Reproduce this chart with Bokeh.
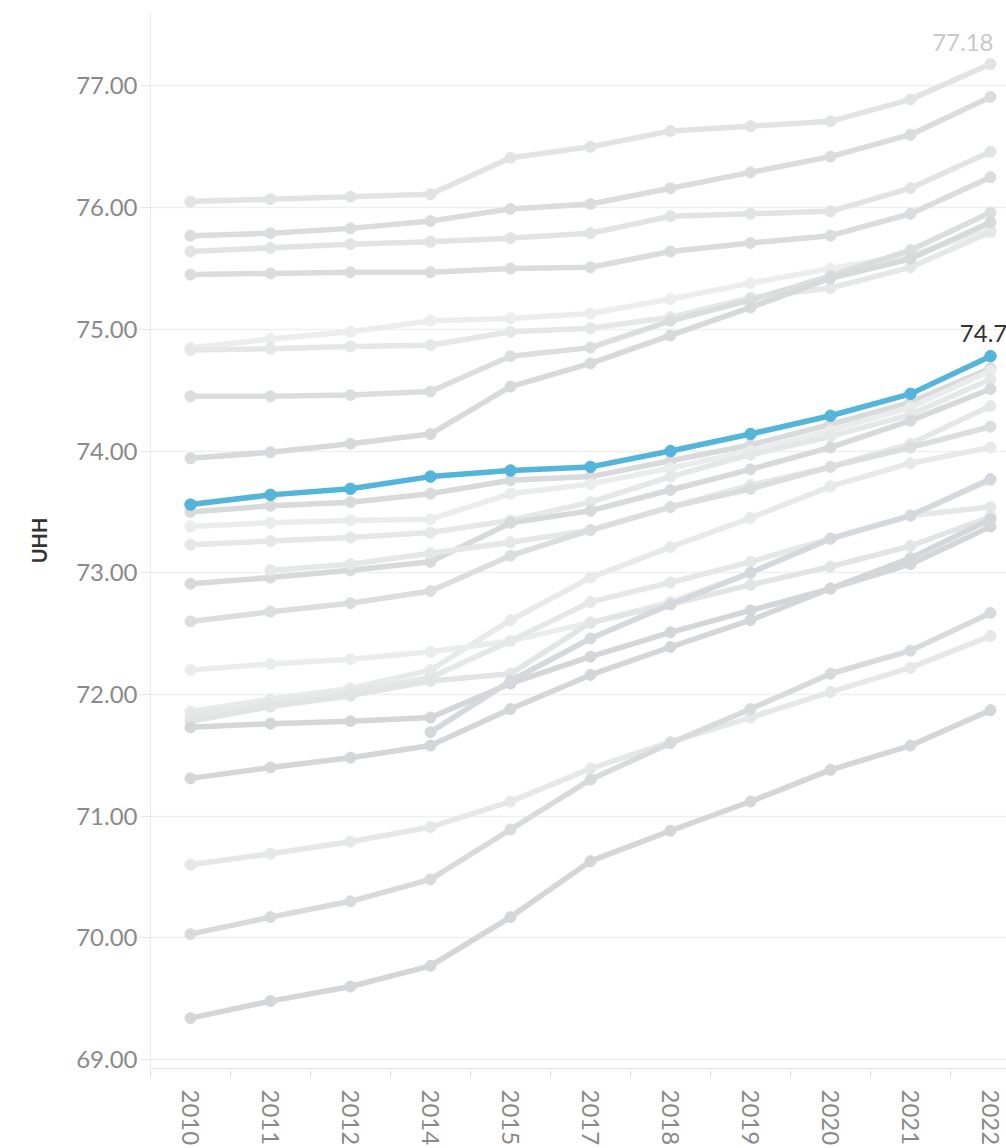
import math
from bokeh.plotting import figure
from bokeh.models import Range1d, FixedTicker, NumeralTickFormatter
from bokeh.core.properties import value
from bokeh.embed import file_html
from bokeh.resources import INLINE

NA = float("nan")

years = ["2010", "2011", "2012", "2014", "2015", "2017", "2018", "2019", "2020", "2021", "2022"]

# grey series (UHH values per year)
s01 = [76.05, 76.07, 76.09, 76.11, 76.41, 76.50, 76.63, 76.67, 76.71, 76.89, 77.18]
s02 = [75.77, 75.79, 75.83, 75.89, 75.99, 76.03, 76.16, 76.29, 76.42, 76.60, 76.91]
s03 = [75.64, 75.67, 75.70, 75.72, 75.75, 75.79, 75.93, 75.95, 75.97, 76.16, 76.46]
s04 = [75.45, 75.46, 75.47, 75.47, 75.50, 75.51, 75.64, 75.71, 75.77, 75.95, 76.25]
s05 = [74.85, 74.92, 74.98, 75.07, 75.09, 75.13, 75.25, 75.38, 75.50, 75.61, 75.82]
s06 = [74.83, 74.84, 74.86, 74.87, 74.98, 75.01, 75.10, 75.26, 75.34, 75.51, 75.80]
s07 = [74.45, 74.45, 74.46, 74.49, 74.78, 74.85, 75.07, 75.24, 75.44, 75.65, 75.96]
s08 = [73.94, 73.99, 74.06, 74.14, 74.53, 74.72, 74.95, 75.18, 75.42, 75.58, 75.88]
s09 = [73.50, 73.55, 73.58, 73.65, 73.76, 73.79, 73.92, 74.05, 74.22, 74.40, 74.68]
s10 = [73.38, 73.41, 73.43, 73.44, 73.65, 73.73, 73.86, 74.00, 74.17, 74.36, 74.66]
s11 = [73.23, 73.26, 73.29, 73.33, 73.43, 73.58, 73.79, 73.97, 74.12, 74.30, 74.59]
s12 = [72.91, 72.96, 73.02, 73.09, 73.41, 73.51, 73.68, 73.85, 74.03, 74.25, 74.51]
s13 = [NA, 73.02, 73.07, 73.16, 73.25, 73.35, 73.54, 73.72, 73.87, 74.06, 74.37]
s14 = [72.60, 72.68, 72.75, 72.85, 73.14, 73.35, 73.54, 73.69, 73.87, 74.03, 74.20]
s15 = [71.86, 71.96, 72.05, 72.20, 72.61, 72.96, 73.21, 73.45, 73.71, 73.90, 74.03]
s16 = [72.20, 72.25, 72.29, 72.35, 72.44, 72.59, 72.76, 73.00, 73.28, 73.47, 73.76]
s17 = [71.82, 71.92, 72.02, 72.14, 72.44, 72.76, 72.92, 73.09, 73.28, 73.47, 73.54]
s18 = [71.78, 71.90, 71.99, 72.11, 72.17, 72.59, 72.74, 72.90, 73.05, 73.22, 73.46]
s19 = [71.73, 71.76, 71.78, 71.81, 72.09, 72.31, 72.51, 72.69, 72.87, 73.07, 73.38]
s20 = [NA, NA, NA, 71.69, 72.11, 72.46, 72.74, 73.00, 73.28, 73.47, 73.77]
s21 = [71.31, 71.40, 71.48, 71.58, 71.88, 72.16, 72.39, 72.61, 72.87, 73.12, 73.44]
s22 = [70.60, 70.69, 70.79, 70.91, 71.12, 71.39, 71.61, 71.81, 72.02, 72.22, 72.48]
s23 = [70.03, 70.17, 70.30, 70.48, 70.89, 71.30, 71.60, 71.88, 72.17, 72.36, 72.67]
s24 = [69.34, 69.48, 69.60, 69.77, 70.17, 70.63, 70.88, 71.12, 71.38, 71.58, 71.87]

# highlighted series
highlight = [73.56, 73.64, 73.69, 73.79, 73.84, 73.87, 74.00, 74.14, 74.29, 74.47, 74.78]

y_ticks = [69, 70, 71, 72, 73, 74, 75, 76, 77]

grey_series = [s01, s02, s03, s04, s05, s06, s07, s08, s09, s10, s11, s12,
               s13, s14, s15, s16, s17, s18, s19, s20, s21, s22, s23, s24]
grey_colors = ["#e2e3e3", "#dbdcdd", "#e2e3e3", "#dbdcdd", "#ecedec", "#e6e7e7",
               "#dcdddd", "#d8d9da", "#d9dadb", "#ebecec", "#e6e7e7", "#d8d9da",
               "#e6e7e7", "#dcdddd", "#e8e9e9", "#ebecec", "#e6e7e7", "#e3e4e4",
               "#d5d6d8", "#d5d8dc", "#d5d6d8", "#e6e7e7", "#d9dadb", "#d5d6d8"]

xs = list(range(len(years)))

FONT = "Lato"
LABEL_GREY = "#8a8a8a"

p = figure(width=1006, height=1148, output_backend="svg", toolbar_location=None,
           x_range=Range1d(-0.5, 10.2), y_range=Range1d(68.926, 77.604),
           min_border_left=150, min_border_right=0, min_border_top=12,
           min_border_bottom=80)
p.outline_line_color = None
p.background_fill_color = "white"
p.border_fill_color = "white"

for ser, col in zip(grey_series, grey_colors):
    p.line(xs, ser, line_color=col, line_width=5.5, line_join="round")
    p.scatter(xs, ser, size=11, fill_color=col, line_color=col)

p.line(xs, highlight, line_color="#52b5d9", line_width=5.5, line_join="round")
p.scatter(xs, highlight, size=11.5, fill_color="#52b5d9", line_color="#52b5d9")

# end labels
p.text(x=[xs[-1]], y=[s01[-1]], text=[f"{s01[-1]:.2f}"], text_font=value(FONT),
       text_font_size="24px", text_color="#c9c9c9", text_align="right",
       text_baseline="bottom", x_offset=3, y_offset=-13)
p.text(x=[xs[-1]], y=[highlight[-1]], text=[f"{highlight[-1]:.2f}"], text_font=value(FONT),
       text_font_size="24px", text_color="#333333", text_align="center",
       text_baseline="bottom", y_offset=-14)

# y axis
p.yaxis.ticker = FixedTicker(ticks=y_ticks)
p.ygrid.ticker = FixedTicker(ticks=y_ticks)
p.yaxis.formatter = NumeralTickFormatter(format="0.00")
p.yaxis.major_label_text_font = FONT
p.yaxis.major_label_text_font_size = "24px"
p.yaxis.major_label_text_color = LABEL_GREY
p.yaxis.major_label_standoff = 3
p.yaxis.major_tick_out = 10
p.yaxis.major_tick_in = 0
p.yaxis.major_tick_line_color = "#e6e6e6"
p.yaxis.minor_tick_line_color = None
p.yaxis.axis_line_color = "#ececec"
p.yaxis.axis_label = "UHH"
p.yaxis.axis_label_text_font = FONT
p.yaxis.axis_label_text_font_style = "bold"
p.yaxis.axis_label_text_font_size = "20px"
p.yaxis.axis_label_text_color = "#333333"
p.yaxis.axis_label_standoff = 22
p.ygrid.grid_line_color = "#efefef"
p.ygrid.grid_line_width = 1.5

# x axis
p.xaxis.ticker = FixedTicker(ticks=xs, minor_ticks=[i - 0.5 for i in range(len(years) + 1)])
p.xaxis.major_label_overrides = {i: y for i, y in zip(xs, years)}
p.xaxis.major_label_orientation = "vertical"
p.xaxis.major_label_text_font = FONT
p.xaxis.major_label_text_font_size = "24px"
p.xaxis.major_label_text_color = LABEL_GREY
p.xaxis.major_label_standoff = 12
p.xaxis.major_tick_line_color = None
p.xaxis.minor_tick_line_color = "#e3e3e3"
p.xaxis.minor_tick_out = 9
p.xaxis.minor_tick_in = 0
p.xaxis.axis_line_color = "#e6e6e6"
p.xgrid.visible = False

open("out.html", "w").write(file_html(p, INLINE))
